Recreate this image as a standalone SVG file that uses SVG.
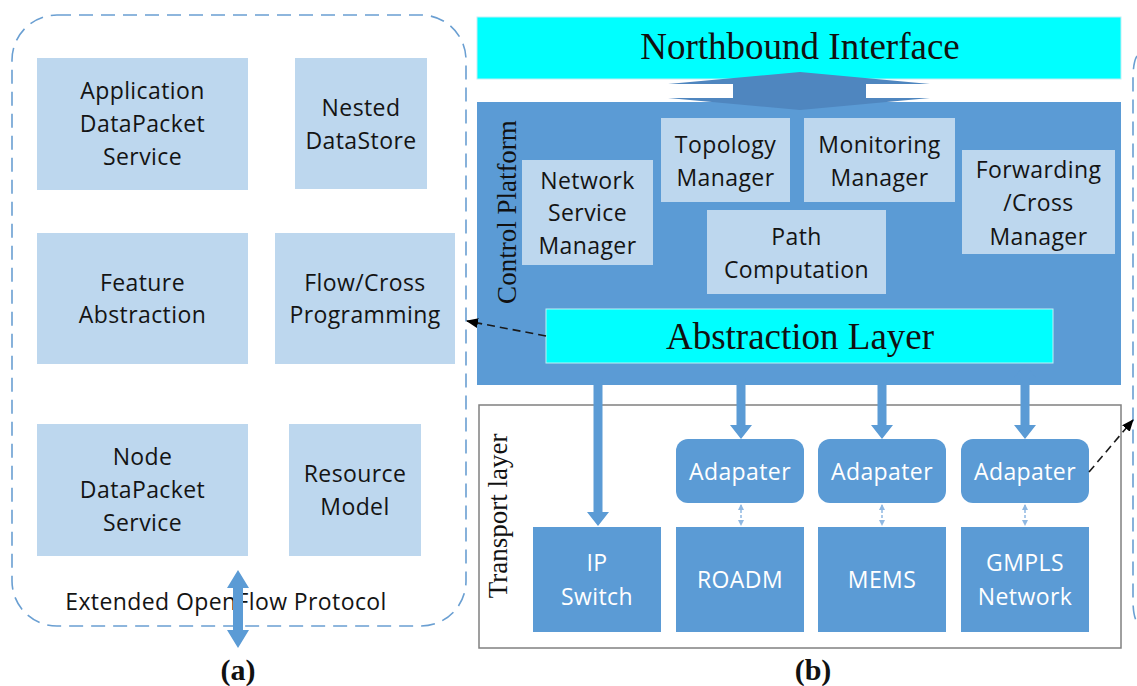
<svg xmlns="http://www.w3.org/2000/svg" width="1137" height="686" viewBox="0 0 1137 686">
  <style>
    .sans { font-family: "Open Sans", "Noto Sans", "DejaVu Sans", sans-serif; font-size: 23px; letter-spacing: 0.4px; text-anchor: middle; }
    .dark { fill: #141414; }
    .light { fill: #ffffff; }
    .serif { font-family: "Liberation Serif", "Times New Roman", serif; fill: #111111; }
    .pale { fill: #BDD7EE; }
    .mid { fill: #5B9BD5; }
    .cyan { fill: #00FFFF; stroke: #BFEFF5; stroke-width: 1; }
    .dash-frame { fill: none; stroke: #6A9FD2; stroke-width: 1.6; stroke-dasharray: 14 8; }
    .ptr { fill: none; stroke: #1a1a1a; stroke-width: 1.6; stroke-dasharray: 8 5; }
    .link { fill: none; stroke: #8FB8E2; stroke-width: 1.5; stroke-dasharray: 3 2; }
  </style>
  <defs>
    <marker id="tip" viewBox="0 0 12 10" refX="11" refY="5" markerWidth="12" markerHeight="10" markerUnits="userSpaceOnUse" orient="auto">
      <path d="M0,0 L12,5 L0,10 Z" fill="#000"/>
    </marker>
    <marker id="small" viewBox="0 0 6 6" refX="5" refY="3" markerWidth="6" markerHeight="6" markerUnits="userSpaceOnUse" orient="auto-start-reverse">
      <path d="M0,0 L6,3 L0,6 Z" fill="#8FB8E2"/>
    </marker>
    <!-- short double-headed bus arrow, 75 px long, centred on x=0 -->
    <path id="bus" d="M0,0 L11,14 L4.5,14 L4.5,61 L11,61 L0,75 L-11,61 L-4.5,61 L-4.5,14 L-11,14 Z" fill="#5B9BD5"/>
  </defs>

  <rect width="1137" height="686" fill="#ffffff"/>

  <!-- (a) controller internals -->
  <g id="frame-a">
    <rect class="dash-frame" x="12" y="15" width="454" height="611" rx="45"/>
  </g>
  <g id="app-datapacket">
    <rect class="pale" x="37" y="58" width="211" height="132"/>
    <text class="sans dark" x="142.5" y="99">Application</text>
    <text class="sans dark" x="142.5" y="132">DataPacket</text>
    <text class="sans dark" x="142.5" y="165">Service</text>
  </g>
  <g id="nested-datastore">
    <rect class="pale" x="295" y="58" width="132" height="131"/>
    <text class="sans dark" x="361" y="116">Nested</text>
    <text class="sans dark" x="361" y="149">DataStore</text>
  </g>
  <g id="feature-abstraction">
    <rect class="pale" x="37" y="233" width="211" height="131"/>
    <text class="sans dark" x="142.5" y="291">Feature</text>
    <text class="sans dark" x="142.5" y="323">Abstraction</text>
  </g>
  <g id="flow-cross">
    <rect class="pale" x="275" y="233" width="180" height="131"/>
    <text class="sans dark" x="365" y="291">Flow/Cross</text>
    <text class="sans dark" x="365" y="323">Programming</text>
  </g>
  <g id="node-datapacket">
    <rect class="pale" x="37" y="424" width="211" height="132"/>
    <text class="sans dark" x="142.5" y="465">Node</text>
    <text class="sans dark" x="142.5" y="498">DataPacket</text>
    <text class="sans dark" x="142.5" y="531">Service</text>
  </g>
  <g id="resource-model">
    <rect class="pale" x="289" y="424" width="132" height="132"/>
    <text class="sans dark" x="355" y="482">Resource</text>
    <text class="sans dark" x="355" y="515">Model</text>
  </g>
  <g id="openflow-label">
    <text class="sans dark" x="226" y="610" font-size="22.5">Extended OpenFlow Protocol</text>
  </g>

  <!-- (b) platform layers -->
  <g id="northbound">
    <rect class="cyan" x="477" y="17" width="644" height="62"/>
    <text class="serif" x="800" y="59" font-size="37" text-anchor="middle">Northbound Interface</text>
  </g>
  <g id="control-platform">
    <rect x="477" y="102" width="644" height="283" fill="#5B9BD5"/>
    <text class="serif" font-size="27" text-anchor="middle" transform="translate(516,212) rotate(-90)">Control Platform</text>
  </g>
  <g id="network-service">
    <rect class="pale" x="522" y="160" width="131" height="105"/>
    <text class="sans dark" x="587.5" y="189">Network</text>
    <text class="sans dark" x="587.5" y="221">Service</text>
    <text class="sans dark" x="587.5" y="254">Manager</text>
  </g>
  <g id="topology">
    <rect class="pale" x="661" y="118" width="129" height="84"/>
    <text class="sans dark" x="725.5" y="153">Topology</text>
    <text class="sans dark" x="725.5" y="186">Manager</text>
  </g>
  <g id="monitoring">
    <rect class="pale" x="804" y="118" width="151" height="84"/>
    <text class="sans dark" x="879.5" y="153">Monitoring</text>
    <text class="sans dark" x="879.5" y="186">Manager</text>
  </g>
  <g id="path-computation">
    <rect class="pale" x="707" y="210" width="179" height="84"/>
    <text class="sans dark" x="796.5" y="245">Path</text>
    <text class="sans dark" x="796.5" y="278">Computation</text>
  </g>
  <g id="forwarding-cross">
    <rect class="pale" x="962" y="150" width="153" height="104"/>
    <text class="sans dark" x="1038.5" y="178">Forwarding</text>
    <text class="sans dark" x="1038.5" y="211">/Cross</text>
    <text class="sans dark" x="1038.5" y="245">Manager</text>
  </g>
  <g id="abstraction-layer">
    <rect class="cyan" x="546" y="309" width="507" height="54"/>
    <text class="serif" x="800" y="349" font-size="37" text-anchor="middle">Abstraction Layer</text>
  </g>

  <g id="transport-layer">
    <rect x="479" y="405" width="642" height="243" fill="#ffffff" stroke="#808080" stroke-width="1.5"/>
    <text class="serif" font-size="27" text-anchor="middle" transform="translate(507,516) rotate(-90)">Transport layer</text>
  </g>
  <g id="adapter-1">
    <rect class="mid" x="676" y="439" width="128" height="64" rx="12"/>
    <text class="sans light" x="740" y="480">Adapater</text>
  </g>
  <g id="adapter-2">
    <rect class="mid" x="818" y="439" width="128" height="64" rx="12"/>
    <text class="sans light" x="882" y="480">Adapater</text>
  </g>
  <g id="adapter-3">
    <rect class="mid" x="961" y="439" width="128" height="64" rx="12"/>
    <text class="sans light" x="1025" y="480">Adapater</text>
  </g>
  <g id="ip-switch">
    <rect class="mid" x="533" y="527" width="128" height="105"/>
    <text class="sans light" x="597" y="571">IP</text>
    <text class="sans light" x="597" y="605">Switch</text>
  </g>
  <g id="roadm">
    <rect class="mid" x="676" y="527" width="128" height="105"/>
    <text class="sans light" x="740" y="588">ROADM</text>
  </g>
  <g id="mems">
    <rect class="mid" x="818" y="527" width="128" height="105"/>
    <text class="sans light" x="882" y="588">MEMS</text>
  </g>
  <g id="gmpls">
    <rect class="mid" x="961" y="527" width="128" height="105"/>
    <text class="sans light" x="1025" y="571">GMPLS</text>
    <text class="sans light" x="1025" y="605">Network</text>
  </g>

  <!-- edge of the neighbouring dashed frame -->
  <g id="frame-c">
    <path class="dash-frame" d="M1137,56 Q1133,62 1133,80 L1133,600 Q1133,616 1137,622"/>
  </g>

  <g id="connectors">
    <!-- northbound block arrow -->
    <path d="M800,72 L930,84 L866,84 L866,98 L930,98 L800,110 L668,98 L733,98 L733,84 L668,84 Z" fill="#4F86BF"/>
    <!-- abstraction layer to devices -->
    <path d="M598,364 L609,378 L602.5,378 L602.5,512 L609,512 L598,526 L587,512 L593.5,512 L593.5,378 L587,378 Z" fill="#5B9BD5"/>
    <use href="#bus" x="741" y="364"/>
    <use href="#bus" x="882" y="364"/>
    <use href="#bus" x="1025" y="364"/>
    <!-- adapter to device links -->
    <line class="link" x1="741" y1="505" x2="741" y2="525" marker-start="url(#small)" marker-end="url(#small)"/>
    <line class="link" x1="882" y1="505" x2="882" y2="525" marker-start="url(#small)" marker-end="url(#small)"/>
    <line class="link" x1="1025" y1="505" x2="1025" y2="525" marker-start="url(#small)" marker-end="url(#small)"/>
    <!-- openflow protocol link -->
    <path d="M238,570 L249,588 L243,588 L243,630 L249,630 L238,648 L227,630 L233,630 L233,588 L227,588 Z" fill="#5B9BD5"/>
    <!-- dashed references -->
    <line class="ptr" x1="546" y1="336" x2="467" y2="321" marker-end="url(#tip)"/>
    <line class="ptr" x1="1089" y1="472" x2="1133" y2="420" marker-end="url(#tip)"/>
  </g>

  <g id="captions">
    <text class="serif" x="238" y="680" font-size="30" font-weight="bold" text-anchor="middle">(a)</text>
    <text class="serif" x="813" y="680" font-size="30" font-weight="bold" text-anchor="middle">(b)</text>
  </g>
</svg>
